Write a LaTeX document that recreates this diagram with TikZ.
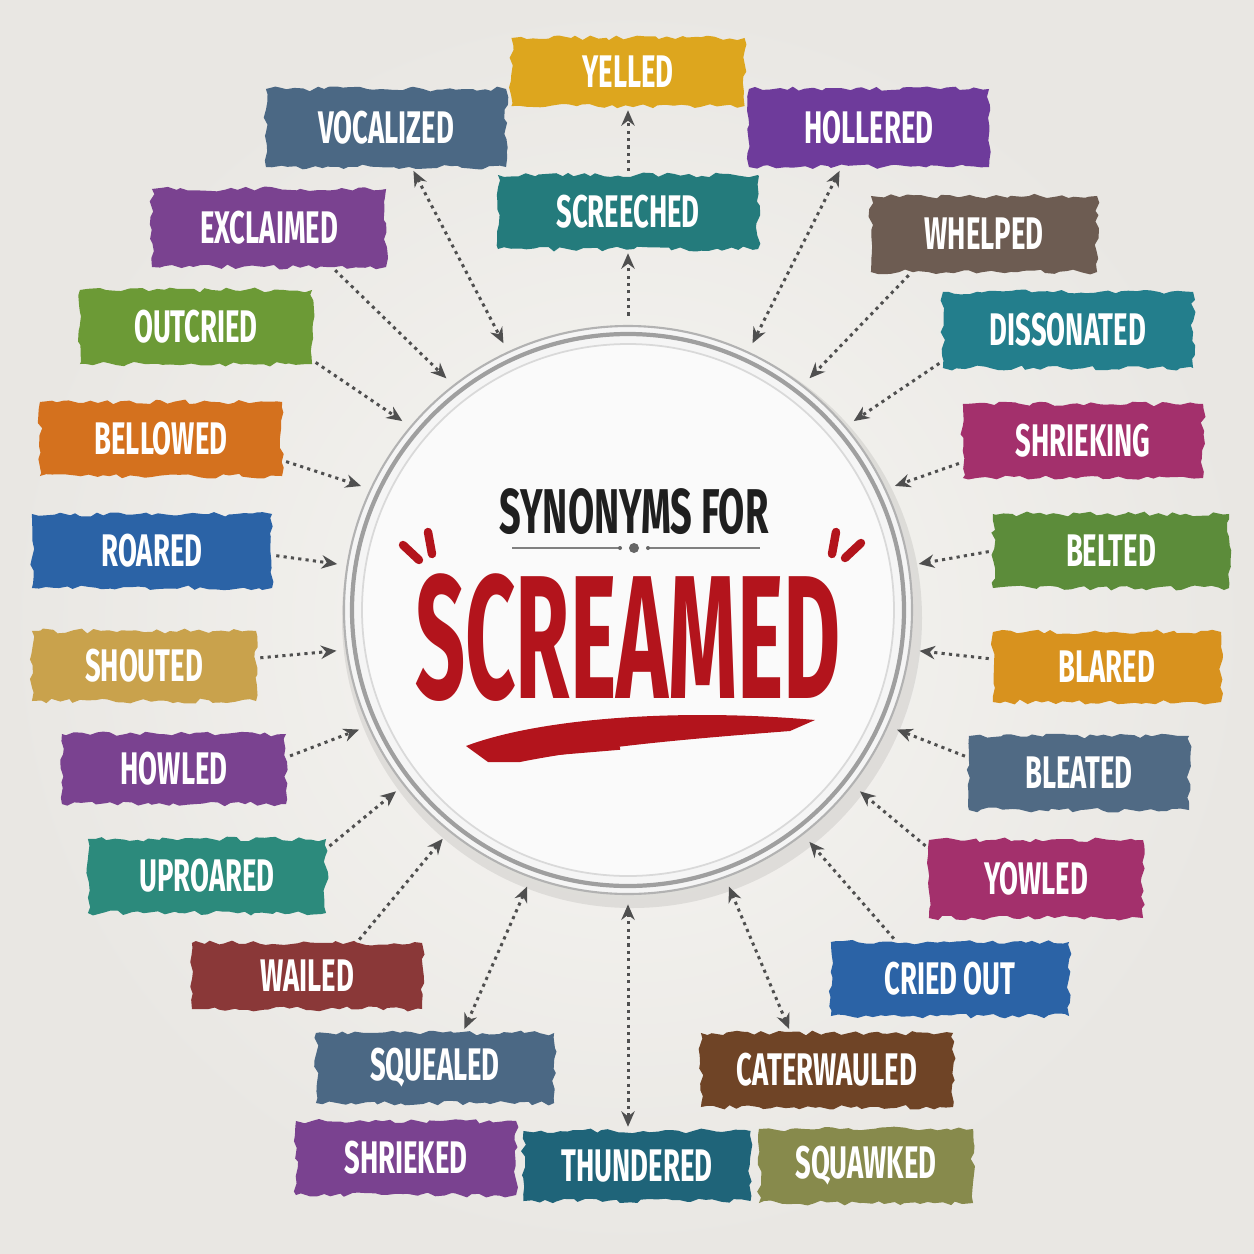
\documentclass[tikz,border=0pt]{standalone}
\usepackage{fontspec}
\newfontfamily\tagfont[FakeStretch=0.6]{Fira Sans}
\newfontfamily\shoutfont[FakeStretch=0.5]{Fira Sans}
\usetikzlibrary{positioning,arrows.meta,decorations.pathmorphing,shapes.geometric}

\definecolor{bgIn}{HTML}{F7F6F3}
\definecolor{bgOut}{HTML}{E9E7E3}
\definecolor{arrGray}{HTML}{4F4F4F}
\definecolor{scrRed}{HTML}{B3141C}
\definecolor{cYellow}{HTML}{DDA61E}
\definecolor{cSlate}{HTML}{4B6884}
\definecolor{cPurple}{HTML}{7A4290}
\definecolor{cGreen}{HTML}{6C9A36}
\definecolor{cOrange}{HTML}{D4711E}
\definecolor{cBlue}{HTML}{2B63A6}
\definecolor{cTan}{HTML}{C9A24C}
\definecolor{cTeal}{HTML}{2C8A7C}
\definecolor{cMaroon}{HTML}{8A3838}
\definecolor{cPetrol}{HTML}{1F6479}
\definecolor{cOlive}{HTML}{878A4C}
\definecolor{cBrown}{HTML}{6F4426}
\definecolor{cMagenta}{HTML}{A3306C}
\definecolor{cTaupe}{HTML}{6D5C52}
\definecolor{cCyan}{HTML}{237E8C}
\definecolor{cMoss}{HTML}{5C8C3A}
\definecolor{cAmber}{HTML}{D8921E}
\definecolor{cSea}{HTML}{247B7C}

\begin{document}
\begin{tikzpicture}[
        x=0.01cm, y=-0.01cm,
        brush/.style={rectangle, fill=#1, minimum width=2.32cm, minimum height=0.74cm, text=white,
            font=\tagfont\bfseries\fontsize{13}{15}\selectfont,
            decorate, decoration={random steps, segment length=2pt, amplitude=0.7pt}},
        arr/.style={-{Stealth[length=4.4pt,width=3.8pt]}, draw=arrGray, line width=0.85pt,
            dash pattern=on 0.9pt off 1.2pt, shorten <=1pt, shorten >=1pt},
        biarr/.style={arr, {Stealth[length=4.4pt,width=3.8pt]}-{Stealth[length=4.4pt,width=3.8pt]}}
    ]
        \pgfmathsetseed{11}
        % Background
        \shade[inner color=bgIn, outer color=bgOut] (0,0) rectangle (1254,1254);
        \useasboundingbox (0,0) rectangle (1254,1254);

        % Central badge
        \fill[black, opacity=0.08] (632,618) circle (290);
        \fill[white!92!gray] (628,610) circle (284);
        \draw[gray!60, line width=0.6pt] (628,610) circle (284);
        \draw[gray!75, line width=1.2pt] (628,610) circle (276);
        \fill[white!96!gray] (628,610) circle (266);
        \draw[gray!30, line width=0.5pt] (628,610) circle (266);
        \node[circle, minimum size=5.8cm] (hub) at (628,610) {};

        \node[font=\tagfont\bfseries\fontsize{18}{21}\selectfont, text=black!88] (synTitle) at (634,512) {SYNONYMS FOR};
        \draw[gray, line width=0.7pt] (512,548) -- (620,548) (648,548) -- (760,548);
        \fill[gray!80!black] (634,548) circle (5) (620,548) circle (2) (648,548) circle (2);
        \node[font=\shoutfont\bfseries\fontsize{50}{54}\selectfont, text=scrRed] (scrTitle) at (628,638) {SCREAMED};
        \draw[scrRed, line width=2.4pt, line cap=round] (403,545) -- (419,560) (428,532) -- (432,554);
        \draw[scrRed, line width=2.4pt, line cap=round] (861,543) -- (845,558) (836,532) -- (832,554);
        \fill[scrRed] (466,746) .. controls (540,718) and (680,708) .. (815,720)
            -- (790,731) .. controls (700,738) and (600,746) .. (520,762) -- (488,762) -- cycle;
        \draw[scrRed, line width=1pt] (560,735) -- (800,724) (500,758) -- (620,748);

        % Labels, top and left
        \node[brush=cYellow, minimum width=2.33cm, minimum height=0.68cm] (yelled) at (628,72) {YELLED};
        \node[brush=cSea, minimum width=2.6cm] (screeched) at (628,212) {SCREECHED};
        \node[brush=cSlate, minimum width=2.4cm, minimum height=0.78cm] (vocalized) at (386,128) {VOCALIZED};
        \node[brush=cPurple, minimum width=2.34cm, minimum height=0.78cm] (exclaimed) at (269,228) {EXCLAIMED};
        \node[brush=cGreen] (outcried) at (196,327) {OUTCRIED};
        \node[brush=cOrange, minimum width=2.42cm] (bellowed) at (161,439) {BELLOWED};
        \node[brush=cBlue, minimum width=2.4cm] (roared) at (152,551) {ROARED};
        \node[brush=cTan, minimum width=2.24cm, minimum height=0.7cm] (shouted) at (144,666) {SHOUTED};
        \node[brush=cPurple, minimum width=2.24cm, minimum height=0.7cm] (howled) at (174,769) {HOWLED};
        \node[brush=cTeal, minimum width=2.38cm] (uproared) at (207,876) {UPROARED};
        \node[brush=cMaroon, minimum width=2.3cm, minimum height=0.66cm] (wailed) at (307,976) {WAILED};
        \node[brush=cSlate, minimum width=2.38cm, minimum height=0.7cm] (squealed) at (435,1068) {SQUEALED};
        \node[brush=cPurple, minimum width=2.2cm] (shrieked) at (406,1158) {SHRIEKED};
        \node[brush=cPetrol, minimum width=2.27cm, minimum height=0.7cm] (thundered) at (637,1166) {THUNDERED};

        % Labels, right and bottom
        \node[brush=cOlive, minimum width=2.14cm] (squawked) at (866,1166) {SQUAWKED};
        \node[brush=cBrown, minimum width=2.52cm] (caterwauled) at (827,1070) {CATERWAULED};
        \node[brush=cBlue, minimum width=2.38cm] (criedout) at (950,979) {CRIED OUT};
        \node[brush=cMagenta, minimum width=2.14cm, minimum height=0.78cm] (yowled) at (1036,879) {YOWLED};
        \node[brush=cSlate!90!gray, minimum width=2.2cm] (bleated) at (1079,773) {BLEATED};
        \node[brush=cAmber, minimum width=2.28cm, minimum height=0.7cm] (blared) at (1107,667) {BLARED};
        \node[brush=cMoss, minimum width=2.36cm] (belted) at (1111,551) {BELTED};
        \node[brush=cMagenta, minimum width=2.4cm] (shrieking) at (1083,441) {SHRIEKING};
        \node[brush=cCyan, minimum width=2.5cm, minimum height=0.76cm] (dissonated) at (1068,330) {DISSONATED};
        \node[brush=cTaupe, minimum width=2.26cm, minimum height=0.76cm] (whelped) at (984,234) {WHELPED};
        \node[brush=cPurple!90!blue, minimum width=2.4cm, minimum height=0.78cm] (hollered) at (869,128) {HOLLERED};

        % Connections
        \draw[arr] (screeched.north) -- (yelled.south);
        \draw[arr] (hub.90) -- (screeched.south);
        \draw[biarr] (vocalized.-57) -- (hub.115);
        \draw[arr] (exclaimed.-32) -- (hub.128);
        \draw[arr] (outcried.-16) -- (hub.140);
        \draw[arr] (bellowed.-10) -- (hub.155);
        \draw[arr] (roared.-2) -- (hub.171);
        \draw[arr] (shouted.4) -- (hub.188);
        \draw[arr] (howled.6) -- (hub.204);
        \draw[arr] (uproared.13) -- (hub.218);
        \draw[arr] (wailed.34) -- (hub.231);
        \draw[biarr] (squealed.52) -- (hub.250);
        \draw[biarr] (hub.270) -- (hub.270 |- thundered.north);
        \draw[biarr] (caterwauled.134) -- (hub.290);
        \draw[arr] (criedout.145) -- (hub.308);
        \draw[arr] (yowled.164) -- (hub.322);
        \draw[arr] (bleated.172) -- (hub.336);
        \draw[arr] (blared.176) -- (hub.352);
        \draw[arr] (belted.180) -- (hub.9);
        \draw[arr] (shrieking.190) -- (hub.25);
        \draw[arr] (dissonated.194) -- (hub.40);
        \draw[arr] (whelped.208) -- (hub.52);
        \draw[biarr] (hollered.235) -- (hub.65);
    \end{tikzpicture}
\end{document}
